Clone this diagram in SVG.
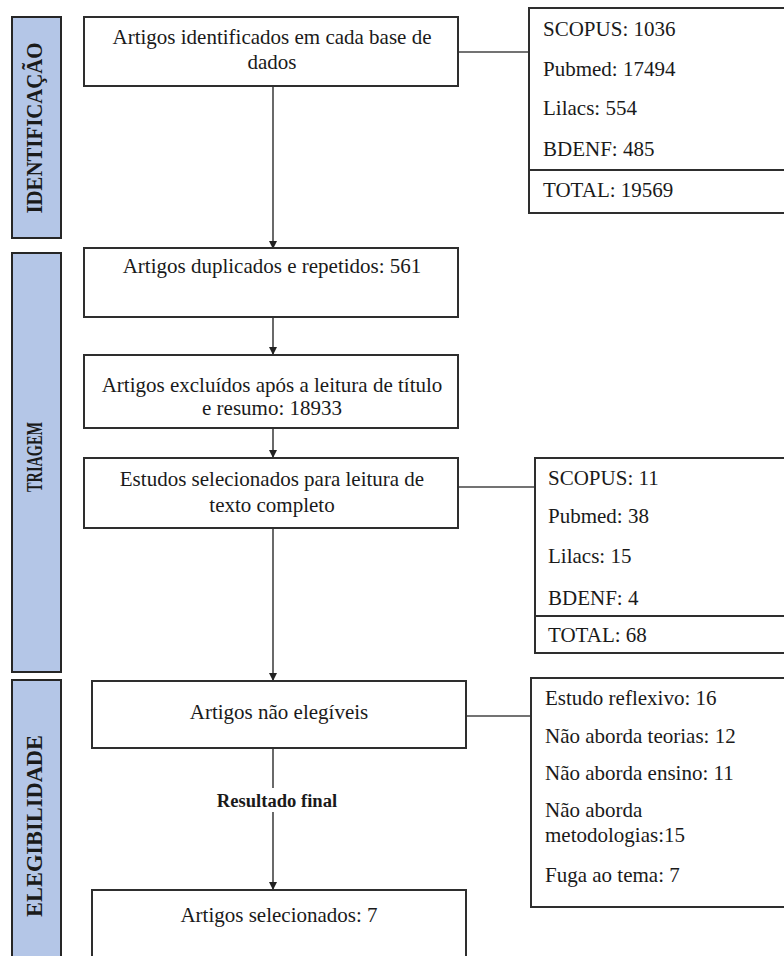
<svg xmlns="http://www.w3.org/2000/svg" width="784" height="956" viewBox="0 0 784 956" font-family="'Liberation Serif', 'Times New Roman', serif">
<style>
.band{fill:#b4c6e7;stroke:#262626;stroke-width:2}
.box{fill:#fff;stroke:#2e2e2e;stroke-width:2}
text{font-family:'Liberation Serif','Times New Roman',serif}
.t{font-size:21px;fill:#1a1a1a}
.c{text-anchor:middle}
.v{font-size:23px;font-weight:bold;fill:#1a1a1a;text-anchor:middle}
.ln{stroke:#444;stroke-width:1.6;fill:none}
.lbl{font-size:18.6px;font-weight:bold;fill:#1a1a1a;text-anchor:middle}
</style>
<defs>
<marker id="ah" markerWidth="8" markerHeight="8" refX="7" refY="4" orient="auto" markerUnits="userSpaceOnUse">
<path d="M0,0 L8,4 L0,8 Z" fill="#222"/>
</marker>
</defs>
<rect width="784" height="956" fill="#fff"/>
<g id="band-identificacao">
<rect class="band" x="12" y="17" width="49" height="221"/>
<text class="v" transform="translate(42,128) rotate(-90)" textLength="171" lengthAdjust="spacingAndGlyphs">IDENTIFICAÇÃO</text>
</g>
<g id="band-triagem">
<rect class="band" x="12" y="253" width="49" height="419"/>
<text class="v" transform="translate(42,457) rotate(-90)" textLength="70" lengthAdjust="spacingAndGlyphs">TRIAGEM</text>
</g>
<g id="band-elegibilidade">
<rect class="band" x="12" y="680" width="49" height="290"/>
<text class="v" transform="translate(42,826) rotate(-90)" textLength="182" lengthAdjust="spacingAndGlyphs">ELEGIBILIDADE</text>
</g>
<g id="connectors">
<line class="ln" x1="273" y1="86" x2="273" y2="248" marker-end="url(#ah)"/>
<line class="ln" x1="273" y1="317" x2="273" y2="354" marker-end="url(#ah)"/>
<line class="ln" x1="273" y1="428" x2="273" y2="457" marker-end="url(#ah)"/>
<line class="ln" x1="273" y1="528" x2="273" y2="680" marker-end="url(#ah)"/>
<line class="ln" x1="273" y1="748" x2="273" y2="788"/>
<line class="ln" x1="273" y1="812" x2="273" y2="889" marker-end="url(#ah)"/>
<line class="ln" x1="458" y1="52" x2="529" y2="52"/>
<line class="ln" x1="458" y1="487" x2="535" y2="487"/>
<line class="ln" x1="466" y1="716" x2="531" y2="716"/>
<text class="lbl" x="277" y="807">Resultado final</text>
</g>
<g id="n-identificados">
<rect class="box" x="84" y="17" width="374" height="69"/>
<text class="t c" x="272" y="44">Artigos identificados em cada base de</text>
<text class="t c" x="272" y="69">dados</text>
</g>
<g id="n-bases1">
<rect class="box" x="529" y="8" width="270" height="205"/>
<line class="box" x1="529" y1="170" x2="790" y2="170"/>
<text class="t" x="543" y="36">SCOPUS: 1036</text>
<text class="t" x="543" y="76">Pubmed: 17494</text>
<text class="t" x="543" y="115">Lilacs: 554</text>
<text class="t" x="543" y="156">BDENF: 485</text>
<text class="t" x="543" y="197">TOTAL: 19569</text>
</g>
<g id="n-duplicados">
<rect class="box" x="84" y="248" width="374" height="69"/>
<text class="t c" x="272" y="273">Artigos duplicados e repetidos: 561</text>
</g>
<g id="n-excluidos">
<rect class="box" x="84" y="355" width="374" height="73"/>
<text class="t c" x="272" y="392">Artigos excluídos após a leitura de título</text>
<text class="t c" x="272" y="415">e resumo: 18933</text>
</g>
<g id="n-estudos">
<rect class="box" x="84" y="458" width="374" height="70"/>
<text class="t c" x="272" y="486">Estudos selecionados para leitura de</text>
<text class="t c" x="272" y="512">texto completo</text>
</g>
<g id="n-bases2">
<rect class="box" x="535" y="458" width="270" height="195"/>
<line class="box" x1="535" y1="616" x2="790" y2="616"/>
<text class="t" x="548" y="485">SCOPUS: 11</text>
<text class="t" x="548" y="523">Pubmed: 38</text>
<text class="t" x="548" y="563">Lilacs: 15</text>
<text class="t" x="548" y="605">BDENF: 4</text>
<text class="t" x="548" y="642">TOTAL: 68</text>
</g>
<g id="n-nao-elegiveis">
<rect class="box" x="92" y="681" width="374" height="67"/>
<text class="t c" x="279" y="719">Artigos não elegíveis</text>
</g>
<g id="n-motivos">
<rect class="box" x="531" y="678" width="270" height="229"/>
<text class="t" x="545" y="705">Estudo reflexivo: 16</text>
<text class="t" x="545" y="743">Não aborda teorias: 12</text>
<text class="t" x="545" y="780">Não aborda ensino: 11</text>
<text class="t" x="545" y="817">Não aborda</text>
<text class="t" x="545" y="842">metodologias:15</text>
<text class="t" x="545" y="882">Fuga ao tema: 7</text>
</g>
<g id="n-selecionados">
<rect class="box" x="92" y="890" width="374" height="80"/>
<text class="t c" x="279" y="922">Artigos selecionados: 7</text>
</g>
</svg>
